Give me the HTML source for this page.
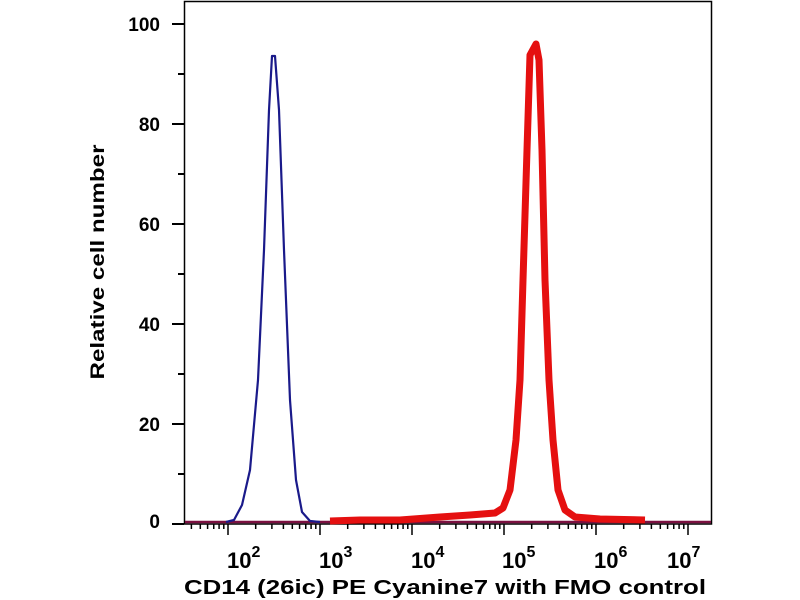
<!DOCTYPE html>
<html><head><style>
body{margin:0;background:#fff}
svg{display:block;font-family:"Liberation Sans",sans-serif;font-weight:bold}
</style></head><body>
<svg width="800" height="600" viewBox="0 0 800 600">
<rect x="184.5" y="1.5" width="527" height="522.5" fill="none" stroke="#000" stroke-width="1.5"/>
<g stroke="#000" stroke-width="2">
<line x1="172" y1="24" x2="184" y2="24"/><line x1="172" y1="124" x2="184" y2="124"/>
<line x1="172" y1="224" x2="184" y2="224"/><line x1="172" y1="324" x2="184" y2="324"/>
<line x1="172" y1="424" x2="184" y2="424"/><line x1="172" y1="524" x2="184" y2="524"/>
<line x1="178" y1="74" x2="184" y2="74"/><line x1="178" y1="174" x2="184" y2="174"/>
<line x1="178" y1="274" x2="184" y2="274"/><line x1="178" y1="374" x2="184" y2="374"/>
<line x1="178" y1="474" x2="184" y2="474"/>
</g>
<g font-size="19" text-anchor="end">
<text x="160" y="31">100</text><text x="160" y="131">80</text><text x="160" y="231">60</text>
<text x="160" y="331">40</text><text x="160" y="431">20</text><text x="160" y="528">0</text>
</g>
<text transform="translate(104,262) rotate(-90)" font-size="19" text-anchor="middle" textLength="235" lengthAdjust="spacingAndGlyphs">Relative cell number</text>
<g stroke="#000" stroke-width="1.5" id="xt"></g>
<g font-size="22">
<text x="227" y="568">10<tspan font-size="16" dy="-11">2</tspan></text>
<text x="319" y="568">10<tspan font-size="16" dy="-11">3</tspan></text>
<text x="411" y="568">10<tspan font-size="16" dy="-11">4</tspan></text>
<text x="502" y="568">10<tspan font-size="16" dy="-11">5</tspan></text>
<text x="594" y="568">10<tspan font-size="16" dy="-11">6</tspan></text>
<text x="667" y="568">10<tspan font-size="16" dy="-11">7</tspan></text>
</g>
<text x="184" y="594" font-size="20" textLength="522" lengthAdjust="spacingAndGlyphs">CD14 (26ic) PE Cyanine7 with FMO control</text>
<line x1="185" y1="522" x2="711" y2="522" stroke="#7a1040" stroke-width="2.5"/>
<path d="M330,521 L360,520 L400,520 L440,517 L470,515 L495,513 L503,508 L510,490 L516,440 L520,380 L523,280 L527,150 L530,55 L536,44 L539,60 L542,150 L545,280 L549,380 L553,440 L558,490 L565,510 L575,517 L600,519 L645,520" fill="none" stroke="#e51010" stroke-width="7" stroke-linejoin="round"/>
<path d="M226,522 L234,520 L242,505 L250,470 L258,380 L264,250 L269,110 L272,56 L275,56 L279,110 L284,250 L290,400 L296,480 L302,512 L310,521 L320,522" fill="none" stroke="#1a1a8a" stroke-width="2.2" stroke-linejoin="round"/>
</svg>
<script>
var g=document.getElementById('xt'),s='';
var x0=228,d=92;
for(var k=1;k<=7;k++){for(var m=1;m<=9;m++){var x=x0+(k-2+Math.log10(m))*d;if(x<186||x>710)continue;var L=m==1?11:5;s+='<line x1="'+x+'" y1="524" x2="'+x+'" y2="'+(524+L)+'"/>';}}
g.innerHTML=s;
</script>
</body></html>
